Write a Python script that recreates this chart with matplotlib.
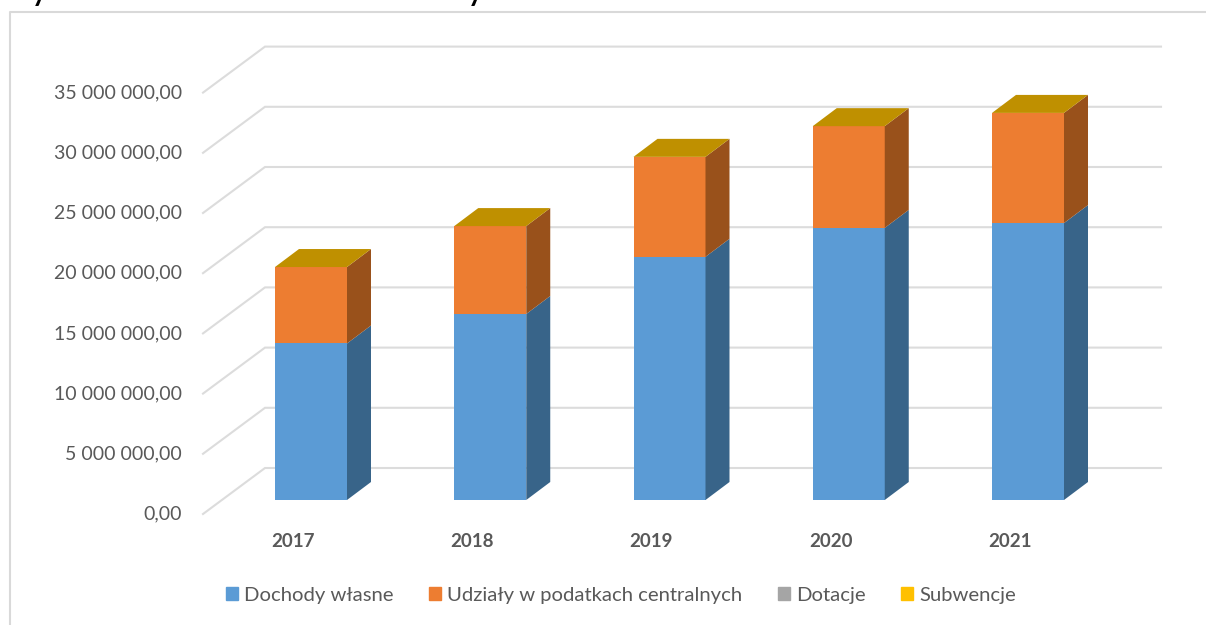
import matplotlib
matplotlib.use("Agg")
import matplotlib.pyplot as plt
from matplotlib.lines import Line2D
from matplotlib.patches import Patch, Polygon

years = ["2017", "2018", "2019", "2020", "2021"]
dochody = [13000000, 15450000, 20200000, 22600000, 23000000]
udzialy = [6350000, 7300000, 8300000, 8450000, 9150000]
dotacje = [0, 0, 0, 0, 0]
subwencje = [0, 0, 0, 0, 0]
series_names = ["Dochody własne", "Udziały w podatkach centralnych", "Dotacje", "Subwencje"]
y_ticks = [0, 5000000, 10000000, 15000000, 20000000, 25000000, 30000000, 35000000]
y_labels = ["0,00", "5 000 000,00", "10 000 000,00", "15 000 000,00",
            "20 000 000,00", "25 000 000,00", "30 000 000,00", "35 000 000,00"]

W, H = 1206, 625
CAT_PX = 179.25
X0_PX = 311
Y0_PX = 500
VAL_PER_PX = 5000000 / 60.2


def dx(px):
    return px / CAT_PX


def dy(px):
    return px * VAL_PER_PX


plt.rcParams["font.family"] = ["Lato", "DejaVu Sans"]
GREY = "#595959"

fig = plt.figure(figsize=(W / 100, H / 100), dpi=100)
# axes box in pixels: left 203, right 1161, top 30, bottom 514
ax = fig.add_axes([203 / W, 1 - 514 / H, (1161 - 203) / W, (514 - 30) / H])
ax.set_xlim(dx(203 - X0_PX), dx(1161 - X0_PX))
ax.set_ylim(dy(Y0_PX - 514), dy(Y0_PX - 30))
for s in ax.spines.values():
    s.set_visible(False)

# walls and gridlines: front left corner -> back corner -> right end
x_front, x_back, x_end = ax.get_xlim()[0], dx(265 - X0_PX), ax.get_xlim()[1]
floor_front = dy(Y0_PX - 514)
floor_back = dy(Y0_PX - 468)
for v in y_ticks:
    ax.plot([x_front, x_back, x_end], [floor_front + v, floor_back + v, floor_back + v],
            color="#dcdcdc", lw=1.5, zorder=1, clip_on=False, solid_joinstyle="miter")

# bars with fake depth
bw = 72 / CAT_PX
side_x = dx(24)
side_y = dy(18)
bottoms = [0] * len(years)
for vals, front, side in [(dochody, "#5b9bd5", "#386489"), (udzialy, "#ed7d31", "#99511b")]:
    pos = list(range(len(years)))
    ax.bar(pos, vals, bw, bottom=bottoms, color=front, zorder=3)
    for i in pos:
        r = i + bw / 2
        b, t = bottoms[i], bottoms[i] + vals[i]
        ax.add_patch(Polygon([(r, b), (r + side_x, b + side_y), (r + side_x, t + side_y), (r, t)],
                             facecolor=side, edgecolor="none", zorder=3))
    bottoms = [b + v for b, v in zip(bottoms, vals)]

# top face, series with zero height on top of the stack
for i, t in enumerate(bottoms):
    t = t + dotacje[i] + subwencje[i]
    l, r = i - bw / 2, i + bw / 2
    ax.add_patch(Polygon([(l, t), (r, t), (r + side_x, t + side_y), (l + side_x, t + side_y)],
                         facecolor="#bf9000", edgecolor="none", zorder=3))

# labels sit a bit above the wall corner, years are centred on the floor front
ax.set_yticks([floor_front + v + dy(1.5) for v in y_ticks], y_labels)
ax.set_xticks([i - dx(18) for i in range(len(years))], years)
ax.tick_params(axis="y", length=0, pad=15, labelsize=14, labelcolor=GREY)
ax.tick_params(axis="x", length=0, pad=14, labelsize=13.5, labelcolor=GREY)
for lab in ax.get_xticklabels():
    lab.set_fontweight("bold")

handles = [Patch(color=c) for c in ["#5b9bd5", "#ed7d31", "#a5a5a5", "#ffc000"]]
leg = fig.legend(handles, series_names, ncol=4, frameon=False, loc="center",
                 bbox_to_anchor=(621 / W, 1 - 595 / H), fontsize=14.6,
                 handlelength=0.6, handleheight=0.6, handletextpad=0.3, columnspacing=1.75,
                 labelcolor=GREY)

# chart frame, only top and left are in the crop
fig.add_artist(Line2D([10 / W, 10 / W, 1], [0, 1 - 12 / H, 1 - 12 / H], color="#d9d9d9", lw=1.5))

# tails of the cut off caption above the chart
for px in (39, 475):
    fig.text(px / W, 1 - 1 / H, "y", fontsize=20, fontweight="bold", color="black",
             ha="center", va="baseline")

fig.savefig("out.png", dpi=100)
